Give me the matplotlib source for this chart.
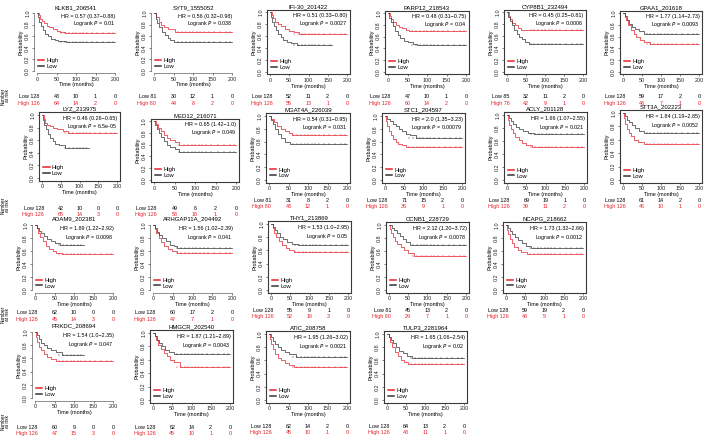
import matplotlib
matplotlib.use("Agg")
import matplotlib.pyplot as plt
import matplotlib.transforms as mtransforms

W, H = 709, 436

titles = ["KLKB1_206541", "SYT9_1555052", "IFI-30_201422", "PARP12_218543",
          "CYP8B1_232494", "GPAA1_201618", "LYZ_213975", "MED12_216071",
          "MGAT4A_226039", "STC1_204597", "ACLY_201128", "STT3A_202223",
          "ADAM9_202381", "ARHGAP11A_204492", "THY1_213869", "CCNB1_228729",
          "NCAPG_218662", "PRKDC_208694", "HMGCR_202540", "ATIC_208758",
          "TULP3_2281964"]
hr_text = ["0.57 (0.37\u22120.88)", "0.56 (0.32\u22120.98)", "0.51 (0.33\u22120.80)",
           "0.48 (0.31\u22120.75)", "0.45 (0.25\u22120.81)", "1.77 (1.14\u22122.73)",
           "0.46 (0.26\u22120.65)", "0.65 (1.42\u22121.0)", "0.54 (0.31\u22120.95)",
           "2.0 (1.35\u22123.23)", "1.66 (1.07\u22122.55)", "1.84 (1.19\u22122.85)",
           "1.89 (1.22\u22122.92)", "1.56 (1.02\u22122.39)", "1.53 (1.0\u22122.95)",
           "2.12 (1.20\u22123.72)", "1.73 (1.32\u22122.66)", "1.54 (1.0\u22122.35)",
           "1.87 (1.21\u22122.89)", "1.95 (1.26\u22123.02)", "1.65 (1.06\u22122.54)"]
p_text = ["0.01", "0.038", "0.0027", "0.04", "0.0006", "0.0093",
          "6.5e-05", "0.049", "0.031", "0.00079", "0.021", "0.0052",
          "0.0098", "0.041", "0.05", "0.0078", "0.0012",
          "0.047", "0.0043", "0.0021", "0.02"]
low_n = [[128, 43, 10, 1, 0], [81, 30, 12, 1, 0], [128, 52, 11, 2, 0], [128, 47, 10, 1, 0],
         [85, 32, 11, 2, 0], [128, 59, 17, 2, 0], [128, 42, 10, 0, 0], [128, 49, 6, 2, 0],
         [81, 31, 8, 2, 0], [128, 71, 15, 2, 0], [128, 69, 19, 1, 0], [128, 61, 14, 2, 0],
         [128, 62, 10, 0, 0], [128, 60, 17, 2, 0], [128, 55, 9, 1, 0], [81, 45, 13, 2, 0],
         [128, 59, 19, 2, 0], [128, 60, 9, 0, 0], [128, 62, 14, 2, 0], [128, 62, 14, 2, 0],
         [128, 64, 13, 2, 0]]
high_n = [[126, 64, 14, 2, 0], [80, 44, 8, 2, 0], [126, 55, 13, 1, 0], [126, 60, 14, 2, 0],
          [76, 42, 9, 1, 0], [126, 48, 7, 1, 0], [126, 65, 14, 3, 0], [126, 58, 18, 1, 0],
          [80, 43, 12, 1, 0], [126, 36, 9, 1, 0], [126, 39, 11, 2, 0], [126, 46, 10, 1, 0],
          [126, 45, 14, 3, 0], [126, 47, 7, 1, 0], [126, 52, 16, 3, 0], [80, 29, 7, 1, 0],
          [126, 48, 5, 1, 0], [126, 47, 15, 3, 0], [126, 45, 10, 1, 0], [126, 45, 10, 1, 0],
          [126, 43, 11, 1, 0]]

high_t = [[0, 4, 8, 12, 18, 25, 32, 40, 50, 60, 72, 200],
          [0, 5, 12, 18, 25, 35, 45, 55, 200],
          [0, 4, 8, 14, 20, 28, 38, 50, 62, 75, 200],
          [0, 4, 8, 14, 20, 28, 35, 45, 55, 200],
          [0, 4, 8, 14, 20, 28, 38, 200],
          [0, 4, 8, 14, 20, 28, 35, 45, 55, 70, 200],
          [0, 4, 8, 14, 20, 30, 40, 55, 70, 200],
          [0, 4, 10, 16, 24, 32, 40, 50, 62, 200],
          [0, 5, 12, 20, 30, 40, 50, 58, 200],
          [0, 3, 6, 10, 15, 20, 28, 35, 45, 55, 200],
          [0, 3, 6, 10, 16, 22, 30, 40, 50, 65, 200],
          [0, 3, 6, 10, 16, 22, 30, 40, 55, 200],
          [0, 4, 8, 14, 20, 28, 35, 45, 55, 68, 200],
          [0, 4, 8, 14, 20, 28, 38, 48, 60, 200],
          [0, 4, 8, 14, 20, 28, 38, 48, 60, 200],
          [0, 3, 6, 10, 16, 22, 30, 40, 50, 65, 200],
          [0, 3, 6, 10, 16, 22, 30, 40, 55, 200],
          [0, 3, 6, 10, 16, 22, 30, 40, 55, 200],
          [0, 4, 8, 14, 20, 28, 36, 45, 55, 70, 200],
          [0, 3, 6, 10, 16, 22, 30, 40, 50, 65, 200],
          [0, 4, 8, 14, 20, 28, 36, 45, 55, 200]]
high_s = [[1, .96, .9, .86, .82, .78, .75, .72, .69, .67, .65, .65],
          [1, .93, .85, .8, .76, .73, .72, .68, .68],
          [1, .95, .9, .84, .8, .76, .72, .69, .66, .63, .63],
          [1, .95, .9, .85, .8, .76, .74, .72, .7, .7],
          [1, .94, .88, .82, .78, .74, .7, .7],
          [1, .94, .88, .8, .72, .65, .6, .55, .5, .47, .47],
          [1, .94, .88, .84, .82, .8, .78, .75, .72, .72],
          [1, .95, .88, .83, .77, .72, .68, .64, .6, .6],
          [1, .96, .9, .85, .8, .76, .73, .7, .7],
          [1, .92, .84, .76, .7, .64, .6, .56, .54, .52, .52],
          [1, .92, .85, .78, .72, .66, .61, .57, .54, .5, .5],
          [1, .92, .84, .76, .7, .65, .6, .57, .53, .53],
          [1, .95, .88, .81, .75, .68, .63, .6, .57, .55, .55],
          [1, .94, .87, .8, .74, .68, .63, .6, .57, .57],
          [1, .94, .87, .8, .74, .68, .63, .6, .57, .57],
          [1, .94, .88, .82, .76, .71, .66, .61, .57, .53, .53],
          [1, .93, .86, .79, .72, .66, .61, .58, .56, .56],
          [1, .92, .85, .78, .72, .67, .62, .59, .56, .56],
          [1, .95, .89, .82, .76, .7, .65, .6, .56, .5, .5],
          [1, .93, .85, .77, .7, .64, .6, .56, .53, .5, .5],
          [1, .95, .88, .8, .72, .66, .6, .57, .55, .55]]
low_t = [[0, 3, 6, 10, 15, 20, 28, 35, 45, 55, 75, 200],
         [0, 4, 8, 14, 20, 28, 35, 42, 50, 200],
         [0, 3, 6, 10, 15, 20, 28, 35, 45, 55, 70, 160],
         [0, 3, 7, 12, 18, 25, 32, 40, 50, 65, 75, 200],
         [0, 3, 8, 12, 18, 25, 32, 40, 48, 58, 200],
         [0, 4, 10, 16, 24, 32, 42, 55, 200],
         [0, 3, 6, 10, 15, 20, 28, 35, 45, 60, 125],
         [0, 3, 8, 12, 18, 25, 32, 40, 50, 60, 200],
         [0, 4, 10, 16, 24, 32, 42, 55, 200],
         [0, 5, 12, 20, 28, 36, 45, 55, 65, 80, 200],
         [0, 5, 10, 16, 24, 32, 42, 55, 70, 200],
         [0, 5, 10, 16, 24, 32, 42, 55, 200],
         [0, 5, 10, 16, 24, 32, 42, 52, 65, 125],
         [0, 5, 10, 16, 24, 32, 42, 52, 62, 200],
         [0, 5, 10, 16, 24, 32, 42, 55, 70, 200],
         [0, 8, 14, 20, 28, 36, 45, 55, 200],
         [0, 5, 10, 16, 24, 32, 42, 52, 65, 200],
         [0, 5, 10, 16, 24, 32, 42, 55, 70, 125],
         [0, 5, 10, 16, 24, 32, 42, 55, 200],
         [0, 5, 10, 16, 24, 32, 42, 52, 70, 200],
         [0, 5, 10, 16, 24, 32, 42, 52, 65, 200]]
low_s = [[1, .93, .85, .78, .7, .64, .6, .56, .54, .52, .5, .5],
         [1, .9, .82, .75, .68, .62, .57, .53, .5, .5],
         [1, .92, .84, .77, .7, .64, .58, .53, .5, .48, .45, .45],
         [1, .92, .85, .78, .7, .63, .58, .53, .5, .47, .45, .45],
         [1, .92, .85, .78, .7, .64, .59, .55, .5, .47, .47],
         [1, .95, .88, .82, .77, .73, .69, .65, .65],
         [1, .92, .84, .77, .7, .64, .58, .54, .52, .48, .48],
         [1, .93, .86, .8, .73, .66, .6, .56, .52, .48, .48],
         [1, .94, .87, .8, .72, .66, .6, .56, .56],
         [1, .96, .92, .88, .84, .8, .76, .72, .7, .66, .66],
         [1, .95, .9, .86, .82, .78, .75, .72, .7, .7],
         [1, .95, .9, .86, .82, .77, .73, .7, .7],
         [1, .96, .91, .87, .83, .79, .75, .73, .7, .7],
         [1, .96, .9, .85, .8, .75, .7, .68, .65, .65],
         [1, .96, .91, .86, .81, .77, .73, .7, .68, .68],
         [1, .96, .92, .88, .83, .78, .74, .7, .7],
         [1, .96, .91, .86, .81, .77, .72, .68, .65, .65],
         [1, .95, .9, .84, .8, .76, .72, .69, .65, .65],
         [1, .96, .9, .85, .8, .75, .71, .68, .68],
         [1, .96, .9, .85, .8, .76, .72, .69, .65, .65],
         [1, .96, .91, .86, .8, .75, .71, .67, .63, .63]]
censor_t = [62, 72, 82, 92, 100, 110, 118, 128, 140, 155, 170, 185, 195]

# layout in pixels: x of t=0, x of t=200, y of p=1, y of p=0, y of "Low" row, boxed
layout = [(37, 115, 13, 71, 97, False), (154, 232, 13, 71, 97, False),
          (270, 347, 12, 72, 97, True), (388, 466, 13, 72, 97, True),
          (507, 583, 12, 72, 97, True), (623, 699, 13, 72, 97, True),
          (42, 117, 115, 178, 208, True), (154, 236, 121, 180, 208, True),
          (269, 347, 116, 180, 200, True), (385, 462, 116, 180, 200, True),
          (507, 584, 115, 180, 200, True), (623, 699, 113, 180, 200, True),
          (35, 113, 225, 290, 313, False), (153, 232, 225, 290, 313, False),
          (271, 348, 224, 290, 310, True), (389, 466, 225, 290, 310, True),
          (506, 583, 225, 290, 310, True),
          (35, 113, 332, 398, 427, False), (153, 230, 333, 400, 427, True),
          (269, 347, 334, 400, 426, True), (387, 464, 334, 400, 426, True)]
side_label_y = [96, 205, 314, 421]

RED = "#e8202a"
DARK = "#333333"
FS = 3.9

plt.rcParams["font.family"] = ["Liberation Sans", "DejaVu Sans"]
fig = plt.figure(figsize=(W / 100, H / 100), dpi=100)


def fig_y(py):
    return 1 - py / H


for i, name in enumerate(titles):
    x0, x1, y1, y0, ry, boxed = layout[i]
    sx = (x1 - x0) / 200.0
    sy = (y0 - y1) / 1.0
    left = x0 - 8 * sx
    top = y1 - 0.04 * sy
    ax = fig.add_axes([left / W, fig_y(top + 1.08 * sy), 216 * sx / W, 1.08 * sy / H])
    ax.set_xlim(-8, 208)
    ax.set_ylim(-0.04, 1.04)

    for t, s, c in [(high_t[i], high_s[i], RED), (low_t[i], low_s[i], DARK)]:
        ax.step(t, s, where="post", color=c, lw=0.5)
        ct = [v for v in censor_t if v < t[-1]]
        ax.plot(ct, [s[-1]] * len(ct), ls="none", marker="|", ms=1.5, mew=0.35, color=c)

    ax.plot([], [], color=RED, lw=1.1, label="High")
    ax.plot([], [], color=DARK, lw=1.1, label="Low")
    ax.legend(loc="lower left", frameon=False, fontsize=FS + 0.3, handlelength=1.1,
              handletextpad=0.4, labelspacing=0.15, borderaxespad=0.3)

    ax.set_xticks([0, 50, 100, 150, 200])
    ax.set_yticks([0, 0.2, 0.4, 0.6, 0.8, 1.0])
    ax.set_yticklabels(["0.0", "0.2", "0.4", "0.6", "0.8", "1.0"], rotation=90, va="center")
    ax.tick_params(labelsize=FS, length=1.5, width=0.4, pad=1.2, colors="#222222")
    ax.set_xlabel("Time (months)", fontsize=FS, labelpad=0.3)
    ax.set_ylabel("Probability", fontsize=FS, labelpad=1)
    ax.set_title(name, fontsize=4.3, pad=1.2)

    for sp in ax.spines.values():
        sp.set_linewidth(0.8)
        sp.set_color("#3a3a3a")
    if not boxed:
        ax.spines["top"].set_visible(False)
        ax.spines["right"].set_visible(False)
        ax.spines["bottom"].set_bounds(0, 200)
        ax.spines["left"].set_bounds(0, 1)
        ax.spines["bottom"].set_linewidth(0.4)
        ax.spines["left"].set_linewidth(0.4)

    ax.text(0.97, 0.91, "HR = " + hr_text[i], transform=ax.transAxes,
            ha="right", va="center", fontsize=FS)
    ax.text(0.97, 0.79, "Logrank $P$ = " + p_text[i], transform=ax.transAxes,
            ha="right", va="center", fontsize=FS)

    tr = mtransforms.blended_transform_factory(ax.transData, fig.transFigure)
    times = [0, 50, 100, 150, 200]
    for k, tm in enumerate(times):
        if k == 0:
            ax.text(tm + 6, fig_y(ry), "Low %d" % low_n[i][k], transform=tr,
                    ha="right", va="center", fontsize=FS, clip_on=False)
            ax.text(tm + 6, fig_y(ry + 6.5), "High %d" % high_n[i][k], transform=tr,
                    ha="right", va="center", fontsize=FS, color=RED, clip_on=False)
        else:
            ax.text(tm, fig_y(ry), str(low_n[i][k]), transform=tr,
                    ha="center", va="center", fontsize=FS, clip_on=False)
            ax.text(tm, fig_y(ry + 6.5), str(high_n[i][k]), transform=tr,
                    ha="center", va="center", fontsize=FS, color=RED, clip_on=False)

for y in side_label_y:
    fig.text(5 / W, fig_y(y), "Number\nat risk", rotation=90, ha="center",
             va="center", fontsize=3.4, linespacing=0.9)

fig.savefig("out.png", dpi=100)
